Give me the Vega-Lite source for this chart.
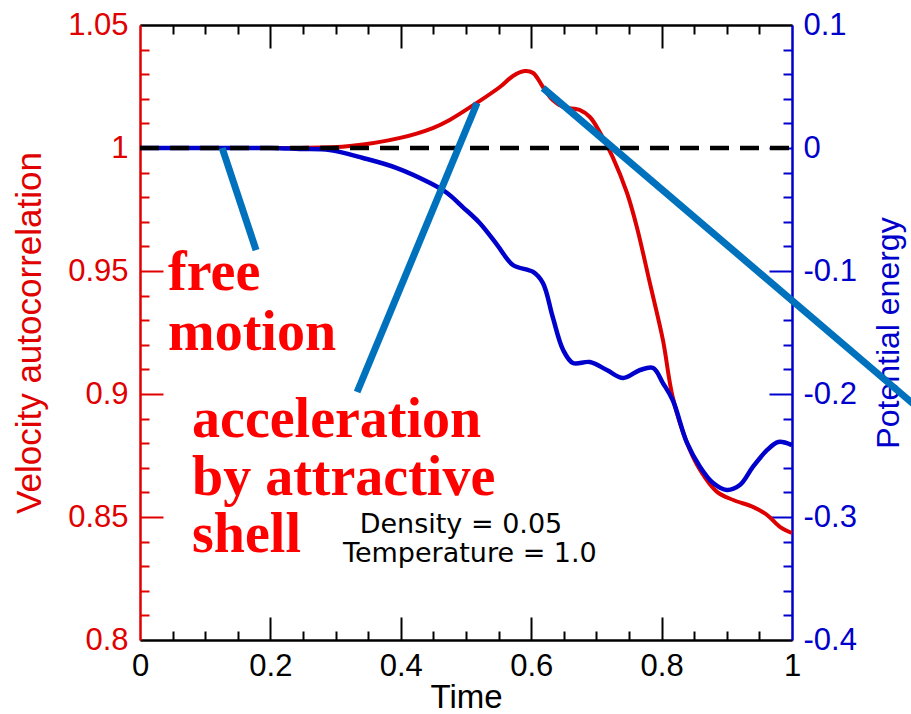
{
  "$schema": "https://vega.github.io/schema/vega-lite/v6.json",
  "width": 652,
  "height": 615,
  "autosize": {"type": "none"},
  "padding": {"left": 140, "top": 25, "right": 119, "bottom": 74},
  "background": "white",
  "config": {
    "view": {"stroke": null},
    "axis": {
      "grid": false,
      "labelFont": "Liberation Sans",
      "titleFont": "Liberation Sans",
      "titleFontWeight": "normal",
      "domainWidth": 2,
      "tickWidth": 2,
      "labelFlush": false,
      "labelOverlap": false,
      "labelBound": false
    }
  },
  "datasets": {
    "vac": [
      {"t": 0.0, "v": 1.0}, {"t": 0.1, "v": 1.0}, {"t": 0.2, "v": 1.0}, {"t": 0.245, "v": 1.0},
      {"t": 0.322, "v": 1.0008}, {"t": 0.399, "v": 1.0041}, {"t": 0.449, "v": 1.0081},
      {"t": 0.475, "v": 1.0114}, {"t": 0.514, "v": 1.0179}, {"t": 0.552, "v": 1.0248},
      {"t": 0.572, "v": 1.0293}, {"t": 0.59, "v": 1.0313}, {"t": 0.603, "v": 1.0305},
      {"t": 0.618, "v": 1.0248}, {"t": 0.633, "v": 1.0195}, {"t": 0.649, "v": 1.0167},
      {"t": 0.675, "v": 1.0154}, {"t": 0.69, "v": 1.0126}, {"t": 0.706, "v": 1.0061},
      {"t": 0.725, "v": 0.9963}, {"t": 0.747, "v": 0.9817}, {"t": 0.762, "v": 0.9679},
      {"t": 0.782, "v": 0.9451}, {"t": 0.802, "v": 0.922}, {"t": 0.817, "v": 0.8988},
      {"t": 0.839, "v": 0.8801}, {"t": 0.859, "v": 0.8691}, {"t": 0.885, "v": 0.8602},
      {"t": 0.91, "v": 0.8569}, {"t": 0.94, "v": 0.8541}, {"t": 0.962, "v": 0.8508},
      {"t": 0.982, "v": 0.8459}, {"t": 1.0, "v": 0.8435}
    ],
    "pe": [
      {"t": 0.0, "p": 0.0}, {"t": 0.1, "p": 0.0}, {"t": 0.2, "p": 0.0}, {"t": 0.245, "p": -0.0008},
      {"t": 0.291, "p": -0.0016}, {"t": 0.342, "p": -0.0081}, {"t": 0.394, "p": -0.0163},
      {"t": 0.445, "p": -0.0285}, {"t": 0.471, "p": -0.0366}, {"t": 0.495, "p": -0.048},
      {"t": 0.521, "p": -0.061}, {"t": 0.548, "p": -0.0789}, {"t": 0.572, "p": -0.0951},
      {"t": 0.603, "p": -0.1008}, {"t": 0.618, "p": -0.1098}, {"t": 0.633, "p": -0.1374},
      {"t": 0.649, "p": -0.1642}, {"t": 0.664, "p": -0.1748}, {"t": 0.69, "p": -0.174},
      {"t": 0.716, "p": -0.1805}, {"t": 0.741, "p": -0.187}, {"t": 0.767, "p": -0.1805},
      {"t": 0.787, "p": -0.1789}, {"t": 0.802, "p": -0.1911}, {"t": 0.817, "p": -0.2049},
      {"t": 0.839, "p": -0.2398}, {"t": 0.859, "p": -0.2593}, {"t": 0.879, "p": -0.2724},
      {"t": 0.9, "p": -0.278}, {"t": 0.92, "p": -0.274}, {"t": 0.94, "p": -0.2593},
      {"t": 0.962, "p": -0.2455}, {"t": 0.979, "p": -0.239}, {"t": 1.0, "p": -0.2415}
    ],
    "ref": [{"t": 0.0, "v": 1.0}, {"t": 1.0, "v": 1.0}],
    "pointers": [
      {"id": "a", "t": 0.126, "v": 1.0}, {"id": "a", "t": 0.178, "v": 0.9585},
      {"id": "b", "t": 0.333, "v": 0.9008}, {"id": "b", "t": 0.517, "v": 1.0183},
      {"id": "c", "t": 0.618, "v": 1.0244}, {"id": "c", "t": 1.196, "v": 0.8937}
    ],
    "notes": [
      {"label": "free", "t": 0.043, "v": 0.9423},
      {"label": "motion", "t": 0.043, "v": 0.9179},
      {"label": "acceleration", "t": 0.0798, "v": 0.8825},
      {"label": "by attractive", "t": 0.0798, "v": 0.8589},
      {"label": "shell", "t": 0.0798, "v": 0.8358}
    ],
    "info": [
      {"label": "Density = 0.05", "t": 0.4923, "v": 0.8435},
      {"label": "Temperature = 1.0", "t": 0.506, "v": 0.8317}
    ]
  },
  "layer": [
    {
      "data": {"name": "vac"},
      "mark": {"type": "line", "color": "#dd0000", "strokeWidth": 4, "interpolate": "catmull-rom"},
      "encoding": {
        "x": {
          "field": "t", "type": "quantitative",
          "scale": {"domain": [0, 1], "nice": false, "zero": false},
          "axis": {
            "orient": "bottom", "values": [0, 0.2, 0.4, 0.6, 0.8, 1], "format": ".1~f",
            "tickSize": -23, "labelPadding": 34, "labelFontSize": 31, "labelColor": "black",
            "domainColor": "black", "tickColor": "black",
            "tickOpacity": {"condition": {"test": "datum.value < 0.01 || datum.value > 0.99", "value": 0}, "value": 1},
            "title": "Time", "titleFontSize": 33, "titleColor": "black", "titlePadding": 0
          }
        },
        "y": {
          "field": "v", "type": "quantitative",
          "scale": {"domain": [0.8, 1.05], "nice": false, "zero": false},
          "axis": {
            "orient": "left", "values": [0.8, 0.85, 0.9, 0.95, 1, 1.05], "format": ".2~f",
            "tickSize": -23, "labelPadding": 35, "labelFontSize": 31, "labelColor": "#e00000",
            "domainColor": "#e00000", "tickColor": "#e00000",
            "tickOpacity": {"condition": {"test": "datum.value < 0.81 || datum.value > 1.04", "value": 0}, "value": 1},
            "title": "Velocity autocorrelation", "titleFontSize": 35, "titleColor": "#e00000", "titlePadding": 20
          }
        }
      }
    },
    {
      "data": {"name": "pe"},
      "mark": {"type": "line", "color": "#0000cc", "strokeWidth": 4.5, "interpolate": "catmull-rom"},
      "encoding": {
        "x": {
          "field": "t", "type": "quantitative",
          "scale": {"domain": [0, 1], "nice": false, "zero": false},
          "axis": {
            "orient": "bottom", "values": [0.05, 0.1, 0.15, 0.25, 0.3, 0.35, 0.45, 0.5, 0.55, 0.65, 0.7, 0.75, 0.85, 0.9, 0.95],
            "labels": false, "tickSize": -9, "domainColor": "black", "tickColor": "black", "title": null
          }
        },
        "y": {
          "field": "p", "type": "quantitative",
          "scale": {"domain": [-0.4, 0.1], "nice": false, "zero": false},
          "axis": {
            "orient": "right", "values": [-0.4, -0.3, -0.2, -0.1, 0, 0.1],
            "labelExpr": "datum.value < 0 ? '-' + format(-datum.value, '.1~f') : format(datum.value, '.1~f')",
            "tickSize": -23, "labelPadding": 34, "labelFontSize": 31, "labelColor": "#0000cc",
            "domainColor": "#0000cc", "tickColor": "#0000cc",
            "tickOpacity": {"condition": {"test": "datum.value < -0.39 || datum.value > 0.09", "value": 0}, "value": 1},
            "title": "Potential energy", "titleFontSize": 32, "titleColor": "#0000cc",
            "titleAngle": 270, "titleBaseline": "top", "titlePadding": 17
          }
        }
      }
    },
    {
      "data": {"name": "ref"},
      "mark": {"type": "line", "color": "black", "strokeWidth": 4.5, "strokeDash": [19, 11]},
      "encoding": {
        "x": {
          "field": "t", "type": "quantitative",
          "scale": {"domain": [0, 1], "nice": false, "zero": false},
          "axis": {
            "orient": "top", "values": [0.2, 0.4, 0.6, 0.8], "labels": false,
            "tickSize": -23, "domainColor": "black", "tickColor": "black", "title": null
          }
        },
        "y": {
          "field": "v", "type": "quantitative",
          "scale": {"domain": [0.8, 1.05], "nice": false, "zero": false},
          "axis": {
            "orient": "left", "values": [0.81, 0.82, 0.83, 0.84, 0.86, 0.87, 0.88, 0.89, 0.91, 0.92, 0.93, 0.94, 0.96, 0.97, 0.98, 0.99, 1.01, 1.02, 1.03, 1.04],
            "labels": false, "tickSize": -9, "domainColor": "#e00000", "tickColor": "#e00000", "title": null
          }
        }
      }
    },
    {
      "data": {"name": "pointers"},
      "mark": {"type": "line", "color": "#0072bd", "strokeWidth": 7},
      "encoding": {
        "detail": {"field": "id"},
        "x": {
          "field": "t", "type": "quantitative",
          "scale": {"domain": [0, 1], "nice": false, "zero": false},
          "axis": {
            "orient": "top", "values": [0.05, 0.1, 0.15, 0.25, 0.3, 0.35, 0.45, 0.5, 0.55, 0.65, 0.7, 0.75, 0.85, 0.9, 0.95],
            "labels": false, "tickSize": -9, "domainColor": "black", "tickColor": "black", "title": null
          }
        },
        "y": {
          "field": "v", "type": "quantitative",
          "scale": {"domain": [0.8, 1.05], "nice": false, "zero": false},
          "axis": {
            "orient": "right", "values": [0.81, 0.82, 0.83, 0.84, 0.86, 0.87, 0.88, 0.89, 0.91, 0.92, 0.93, 0.94, 0.96, 0.97, 0.98, 0.99, 1.01, 1.02, 1.03, 1.04],
            "labels": false, "tickSize": -9, "domainColor": "#0000cc", "tickColor": "#0000cc", "title": null
          }
        }
      }
    },
    {
      "data": {"name": "notes"},
      "mark": {"type": "text", "font": "Liberation Serif", "fontWeight": "bold", "fontSize": 56, "color": "#ff0000", "align": "left", "baseline": "alphabetic"},
      "encoding": {
        "text": {"field": "label"},
        "x": {"field": "t", "type": "quantitative", "scale": {"domain": [0, 1], "nice": false, "zero": false}, "axis": null},
        "y": {"field": "v", "type": "quantitative", "scale": {"domain": [0.8, 1.05], "nice": false, "zero": false}, "axis": null}
      }
    },
    {
      "data": {"name": "info"},
      "mark": {"type": "text", "font": "DejaVu Sans", "fontSize": 27, "color": "black", "align": "center", "baseline": "alphabetic"},
      "encoding": {
        "text": {"field": "label"},
        "x": {"field": "t", "type": "quantitative", "scale": {"domain": [0, 1], "nice": false, "zero": false}, "axis": null},
        "y": {"field": "v", "type": "quantitative", "scale": {"domain": [0.8, 1.05], "nice": false, "zero": false}, "axis": null}
      }
    }
  ],
  "resolve": {"scale": {"y": "independent"}, "axis": {"x": "independent"}}
}
